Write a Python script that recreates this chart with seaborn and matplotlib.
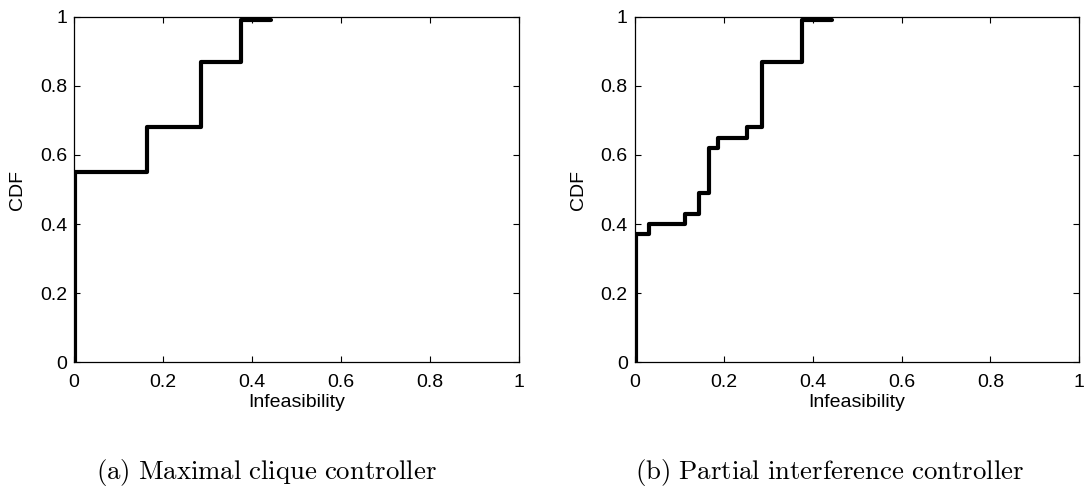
import matplotlib
matplotlib.use('Agg')
import matplotlib.pyplot as plt
import seaborn as sns

# CDF of infeasibility
x_clique = [0.0, 0.003, 0.165, 0.286, 0.376, 0.443]
cdf_clique = [0.0, 0.55, 0.68, 0.87, 0.99, 0.99]

x_partial = [0.0, 0.002, 0.033, 0.113, 0.144, 0.166, 0.188, 0.252, 0.287, 0.376, 0.444]
cdf_partial = [0.0, 0.37, 0.40, 0.43, 0.49, 0.62, 0.65, 0.68, 0.87, 0.99, 0.99]

tick_vals = [0, 0.2, 0.4, 0.6, 0.8, 1]
tick_labels = ['0', '0.2', '0.4', '0.6', '0.8', '1']

captions = [r'$\mathrm{(a)\ Maximal\ clique\ controller}$',
            r'$\mathrm{(b)\ Partial\ interference\ controller}$']

sns.set_style('ticks')
plt.rcParams['font.family'] = ['Liberation Sans', 'DejaVu Sans']
plt.rcParams['mathtext.fontset'] = 'cm'
plt.rcParams['xtick.direction'] = 'in'
plt.rcParams['ytick.direction'] = 'in'
plt.rcParams['xtick.top'] = True
plt.rcParams['ytick.right'] = True
plt.rcParams['text.color'] = 'black'
plt.rcParams['axes.labelcolor'] = 'black'
plt.rcParams['xtick.color'] = 'black'
plt.rcParams['ytick.color'] = 'black'
plt.rcParams['axes.edgecolor'] = 'black'

fig = plt.figure(figsize=(10.85, 4.91), dpi=100)
ax1 = fig.add_axes([0.0682, 0.2627, 0.4101, 0.7027])
ax2 = fig.add_axes([0.5850, 0.2627, 0.4098, 0.7027])

panels = [(ax1, x_clique, cdf_clique), (ax2, x_partial, cdf_partial)]
caption_x = [0.246, 0.765]

for (ax, xs, ys), cap, cx in zip(panels, captions, caption_x):
    sns.lineplot(x=xs, y=ys, ax=ax, color='black', linewidth=3.0,
                 drawstyle='steps-post')
    ax.set_xlim(0, 1)
    ax.set_ylim(0, 1)
    ax.set_xticks(tick_vals)
    ax.set_xticklabels(tick_labels)
    ax.set_yticks(tick_vals)
    ax.set_yticklabels(tick_labels)
    ax.tick_params(labelsize=14, length=4, width=0.8)
    ax.tick_params(axis='x', pad=8.5)
    ax.tick_params(axis='y', pad=5)
    ax.set_xlabel('Infeasibility', fontsize=14, labelpad=2)
    ax.set_ylabel('CDF', fontsize=14, labelpad=10)
    for sp in ax.spines.values():
        sp.set_linewidth(0.9)
        sp.set_visible(True)
    fig.text(cx, 1 - 473 / 491, cap, ha='center', va='center', fontsize=19.3)

fig.savefig('out.png', dpi=100)
